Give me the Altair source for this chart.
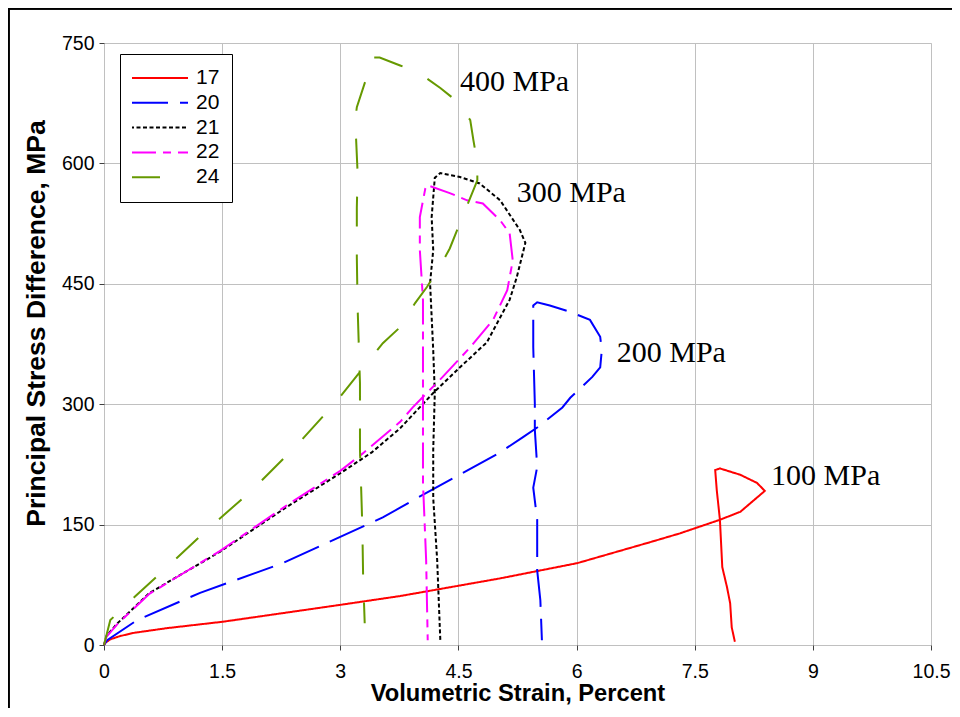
import altair as alt
import pandas as pd

# ---- data ----
series_names = ["17", "20", "21", "22", "24"]
colors = ["#ff0000", "#0000ff", "#000000", "#ff00ff", "#669900"]
dashes = [[1, 0], [38, 12], [4, 2.5], [26, 7, 8, 7], [30, 28]]

x17 = [0, 0.02, 0.08, 0.2, 0.37, 0.8, 1.51, 3.00, 3.76, 5.03, 6.01, 6.93, 7.31, 7.82, 8.08, 8.39,
       8.29, 8.08, 7.82, 7.76, 7.78, 7.82, 7.85, 7.91, 7.95, 7.97, 8.01]
y17 = [0, 3, 7, 11, 15, 21, 29, 50, 61, 83, 102, 128, 139, 156, 166, 192,
       202, 212, 220, 218, 193, 156, 97, 72, 52, 22, 4]

x20 = [0, 0.04, 0.42, 1.22, 2.27, 3.54, 3.76, 3.97, 5.03, 5.32, 5.50, 5.82, 5.92, 6.20,
       6.30, 6.32, 6.30, 6.17, 5.92, 5.66, 5.50, 5.45, 5.45, 5.47, 5.47, 5.50, 5.45,
       5.50, 5.50, 5.54, 5.56]
y20 = [0, 6, 31, 65, 102, 159, 171, 183, 240, 259, 271, 296, 308, 334,
       346, 367, 384, 405, 415, 423, 427, 423, 371, 301, 268, 222, 196,
       156, 93, 56, 6]

x21 = [0, 0.03, 0.17, 0.58, 1.47, 2.32, 3.00, 3.40, 3.76, 4.18, 4.52, 4.86, 5.15, 5.24, 5.35,
       5.28, 5.03, 4.77, 4.52, 4.27, 4.20, 4.16, 4.18, 4.14, 4.18, 4.20, 4.18, 4.18,
       4.23, 4.27]
y21 = [0, 11, 27, 65, 116, 172, 214, 240, 270, 314, 346, 377, 430, 458, 501,
       517, 554, 575, 583, 588, 582, 533, 492, 451, 367, 314, 243, 183,
       106, 6]

x22 = [0, 0.03, 0.17, 0.58, 1.47, 2.32, 3.00, 3.29, 3.76, 3.92, 4.30, 4.65, 4.94, 5.12,
       5.19, 5.15, 5.03, 4.81, 4.61, 4.39, 4.10, 4.08, 4.01, 4.01, 4.05, 4.05, 4.05,
       4.05, 4.09, 4.11]
y22 = [0, 10, 26, 64, 117, 174, 217, 239, 278, 296, 334, 371, 405, 442,
       479, 513, 529, 550, 554, 563, 573, 569, 533, 492, 430, 367, 284,
       202, 106, 6]

x24 = [0, 0.08, 0.39, 0.69, 1.28, 1.88, 2.45, 2.93, 3.54, 3.76, 3.95, 4.10, 4.29, 4.39,
       4.52, 4.62, 4.74, 4.74, 4.69, 4.65, 4.46, 4.27, 4.01, 3.76, 3.50, 3.40, 3.35,
       3.21, 3.19, 3.22, 3.21, 3.21, 3.22, 3.25, 3.25, 3.28, 3.29, 3.31]
y24 = [0, 31, 60, 87, 141, 193, 249, 301, 376, 396, 426, 446, 476, 494,
       526, 550, 579, 600, 629, 654, 679, 694, 712, 722, 732, 732, 712,
       670, 654, 588, 545, 483, 421, 326, 243, 147, 85, 27]

label_texts = ["400 MPa", "300 MPa", "200 MPa", "100 MPa"]
label_x = [4.52, 5.24, 6.51, 8.47]
label_y = [701, 563, 364, 210]

x_ticks = [0, 1.5, 3, 4.5, 6, 7.5, 9, 10.5]
y_ticks = [0, 150, 300, 450, 600, 750]

# ---- build tables ----
rows = []
for name, xs, ys in zip(series_names, [x17, x20, x21, x22, x24], [y17, y20, y21, y22, y24]):
    for i, (a, b) in enumerate(zip(xs, ys)):
        rows.append({"series": name, "idx": i, "strain": a, "stress": b})
df = pd.DataFrame(rows)
labels_df = pd.DataFrame({"text": label_texts, "strain": label_x, "stress": label_y})

legend = alt.Legend(
    orient="none", legendX=16, legendY=11, title=None,
    symbolType="stroke", symbolSize=3364, symbolStrokeWidth=2, symbolOffset=-3,
    labelFontSize=21, labelFont="Liberation Sans", labelColor="#000000",
    padding=12, rowPadding=0.8, labelOffset=7, clipHeight=24,
    strokeColor="#000000", fillColor="#ffffff",
)

xscale = alt.Scale(domain=[0, 10.5], nice=False, zero=False)
yscale = alt.Scale(domain=[0, 750], nice=False)

x_axis = alt.Axis(
    values=x_ticks, title="Volumetric Strain, Percent", format="~g",
    labelFont="Liberation Sans", labelFontSize=19.5, labelColor="#000000",
    labelPadding=12, labelFlush=False, tickSize=5, tickColor="#404040", domain=False,
    gridColor="#c0c0c0", gridWidth=1,
    titleFont="Liberation Sans", titleFontSize=23.7, titleFontWeight="bold",
    titleColor="#000000", titleBaseline="alphabetic", titleY=55,
)
y_axis = alt.Axis(
    values=y_ticks, title="Principal Stress Difference, MPa",
    labelFont="Liberation Sans", labelFontSize=19.5, labelColor="#000000",
    labelPadding=5, labelFlush=False, tickSize=5, tickColor="#404040", domain=False,
    gridColor="#c0c0c0", gridWidth=1,
    titleFont="Liberation Sans", titleFontSize=26.5, titleFontWeight="bold",
    titleColor="#000000", titleBaseline="alphabetic", titleX=-60, titleY=280,
)

lines = alt.Chart(df).mark_line(strokeWidth=2).encode(
    x=alt.X("strain:Q", scale=xscale, axis=x_axis),
    y=alt.Y("stress:Q", scale=yscale, axis=y_axis),
    color=alt.Color("series:N", scale=alt.Scale(domain=series_names, range=colors), legend=legend),
    strokeDash=alt.StrokeDash("series:N", scale=alt.Scale(domain=series_names, range=dashes), legend=legend),
    detail="series:N",
    order="idx:Q",
)

texts = alt.Chart(labels_df).mark_text(
    align="left", baseline="middle", font="Liberation Serif", fontSize=30, color="#000000"
).encode(
    x=alt.X("strain:Q", scale=xscale),
    y=alt.Y("stress:Q", scale=yscale),
    text="text:N",
)

top_border = alt.Chart(labels_df).mark_rule(color="#000000", strokeWidth=2).encode(
    x=alt.value(-95.5), x2=alt.value(900), y=alt.value(-34.5)
)
left_border = alt.Chart(labels_df).mark_rule(color="#000000", strokeWidth=2).encode(
    x=alt.value(-95.5), y=alt.value(-34.5), y2=alt.value(700)
)

chart = alt.layer(lines, texts, top_border, left_border).properties(
    width=827, height=602,
    padding={"left": 96, "top": 35, "right": 21, "bottom": 63},
    autosize=alt.AutoSizeParams(type="none"),
).configure_view(
    stroke="#333333", strokeWidth=2
).configure(background="#ffffff")

chart.save("out.html", embed_options={"renderer": "svg", "actions": False})
